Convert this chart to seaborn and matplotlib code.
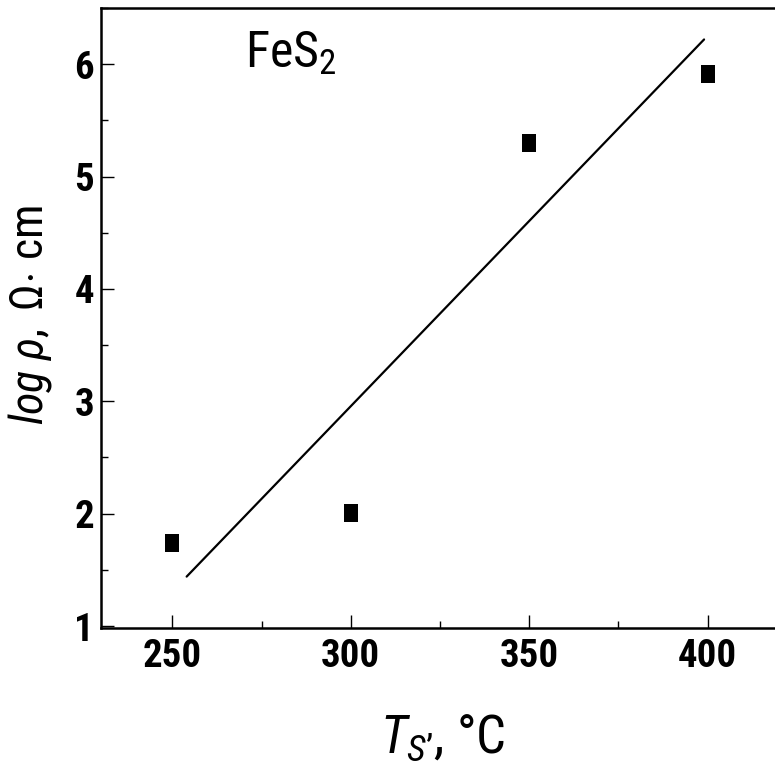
import matplotlib
matplotlib.use("Agg")
import matplotlib.pyplot as plt
import seaborn as sns
import pandas as pd
from matplotlib.ticker import MultipleLocator

# data
temps = [250, 300, 350, 400]
log_rho = [1.74, 2.01, 5.30, 5.91]
fit_x = [254, 399]
fit_y = [1.44, 6.22]
x_ticks = [250, 300, 350, 400]
y_ticks = [1, 2, 3, 4, 5, 6]

sns.set_style("ticks")
fam = ["Roboto Condensed", "DejaVu Sans"]
plt.rcParams["font.family"] = fam
plt.rcParams["text.color"] = "black"
plt.rcParams["xtick.color"] = "black"
plt.rcParams["ytick.color"] = "black"
plt.rcParams["mathtext.fontset"] = "custom"
plt.rcParams["mathtext.rm"] = "Roboto Condensed"
plt.rcParams["mathtext.it"] = "Roboto Condensed:italic"
plt.rcParams["mathtext.bf"] = "Roboto Condensed:bold"

fig = plt.figure(figsize=(7.75, 7.72), dpi=100)
ax = fig.add_axes([101 / 775, (772 - 628.3) / 772, 678 / 775, 620.3 / 772])

df = pd.DataFrame({"T": temps, "rho": log_rho})
rect = [(-0.39, -0.5), (0.39, -0.5), (0.39, 0.5), (-0.39, 0.5), (-0.39, -0.5)]
sns.scatterplot(data=df, x="T", y="rho", marker=rect, s=13.3 ** 2,
                color="black", linewidth=0, ax=ax, zorder=3)
sns.lineplot(x=fit_x, y=fit_y, color="black", linewidth=1.6, ax=ax)

ax.set_xlim(230, 420)
ax.set_ylim(0.98, 6.5)
ax.set_xticks(x_ticks)
ax.set_yticks(y_ticks)
ax.xaxis.set_minor_locator(MultipleLocator(25))
ax.yaxis.set_minor_locator(MultipleLocator(0.5))
ax.tick_params(which="major", direction="in", length=9.5, width=1.0,
               labelsize=28, pad=7)
ax.tick_params(which="minor", direction="in", length=5, width=1.0)
ax.tick_params(axis="y", pad=5)
for lab in ax.get_xticklabels() + ax.get_yticklabels():
    lab.set_fontweight("bold")
for sp in ["left", "bottom", "top"]:
    ax.spines[sp].set_linewidth(1.8)
    ax.spines[sp].set_color("black")
ax.spines["right"].set_visible(False)

ax.set_xlabel("")
ax.set_ylabel("")
fig.text(30 / 775, 1 - 315 / 772,
         r"$\mathit{log}\ \mathit{\rho},\ \Omega{\cdot}\ \mathrm{cm}$",
         rotation=90, ha="center", va="center", fontsize=33)
fig.text(443 / 775, 1 - 738 / 772,
         r"$\mathit{T}_{\mathit{S}\mathrm{’}}$, °C",
         ha="center", va="center", fontsize=38)
ax.text(270.3, 5.976, r"FeS$_{\mathrm{2}}$", ha="left", va="baseline",
        fontsize=36)

fig.savefig("out.png", dpi=100)
